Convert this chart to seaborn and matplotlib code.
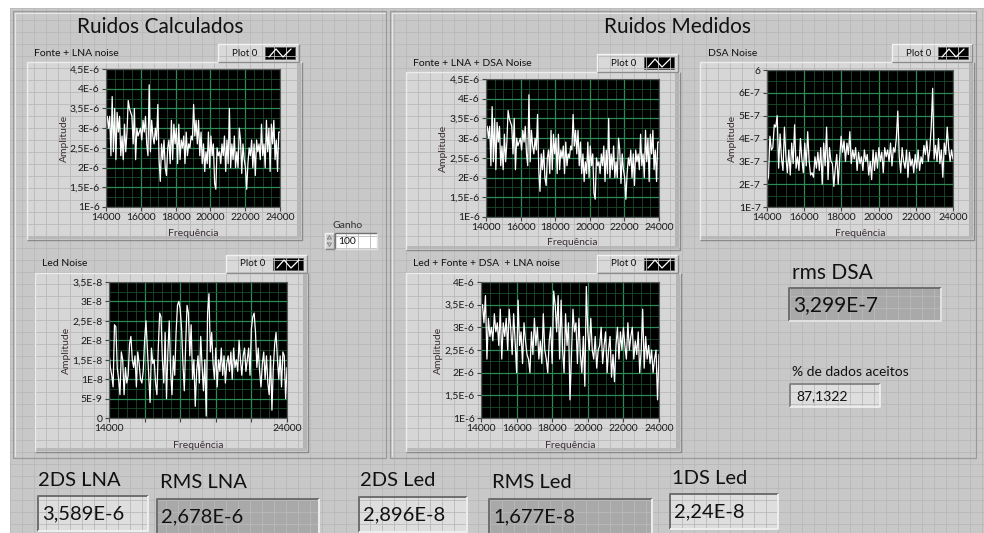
import numpy as np
import matplotlib
matplotlib.use("Agg")
import matplotlib.pyplot as plt
from matplotlib.patches import Rectangle
from matplotlib.ticker import AutoMinorLocator
import seaborn as sns

# frequency axis shared by all graphs
freq_start, freq_stop = 14000, 24000
freq_ticks = [14000, 16000, 18000, 20000, 22000, 24000]
freq_labels = ['14000', '16000', '18000', '20000', '22000', '24000']
freq_labels_led = ['14000', '', '', '', '', '24000']

# traces, left to right
fonte_lna = [3.2, 3.3, 3.0, 3.3, 2.3, 3.8, 2.4, 3.5, 2.2, 3.4, 2.9, 3.3, 2.3, 2.8, 2.2, 3.1,
             2.4, 2.9, 3.7, 3.5, 3.4, 3.3, 2.6, 3.5, 2.2, 3.0, 2.8, 2.9, 3.0, 2.7, 3.2, 2.9,
             3.3, 2.6, 2.3, 4.1, 2.4, 3.2, 2.8, 2.6, 3.0, 2.7, 3.6, 2.2, 1.65, 2.6, 2.2, 2.7,
             2.0, 1.8, 2.5, 2.7, 2.1, 3.2, 2.2, 3.1, 2.6, 3.0, 2.1, 3.1, 2.2, 2.7, 2.5, 2.8,
             2.1, 2.9, 2.3, 2.6, 2.5, 2.8, 2.7, 3.6, 2.8, 3.2, 2.6, 3.2, 2.3, 2.9, 2.1, 2.6,
             1.9, 2.4, 2.1, 2.9, 2.0, 2.8, 2.3, 2.6, 1.6, 1.45, 2.5, 2.3, 2.4, 2.1, 2.6, 2.3,
             2.8, 1.9, 2.7, 2.1, 3.5, 2.0, 2.6, 2.2, 2.8, 2.0, 2.4, 2.0, 3.0, 2.7, 1.85, 2.6,
             2.2, 2.0, 1.45, 2.1, 2.5, 2.3, 2.7, 2.0, 2.6, 1.8, 2.7, 2.4, 2.6, 2.2, 3.1, 2.3,
             2.6, 2.0, 3.2, 2.4, 3.0, 1.9, 3.1, 2.6, 3.2, 2.2, 2.7, 1.9, 2.9, 2.9]  # x1E-6
fonte_lna_dsa = list(fonte_lna)  # measured trace is the same on screen
led_noise = [1.7, 1.3, 1.1, 0.8, 2.4, 2.35, 1.3, 1.0, 0.6, 1.7, 1.5, 0.6, 1.3, 0.9, 1.1, 1.9,
             2.1, 1.5, 1.3, 1.6, 0.8, 1.7, 1.4, 1.0, 0.9, 1.2, 2.0, 2.5, 1.8, 1.1, 0.4, 1.8,
             1.4, 1.5, 0.9, 0.6, 1.8, 2.7, 2.6, 1.5, 0.9, 2.2, 0.5, 1.7, 2.5, 1.2, 0.6, 1.6,
             1.1, 2.2, 2.9, 3.0, 2.8, 2.3, 1.4, 0.7, 1.9, 2.9, 2.7, 1.6, 2.4, 1.0, 1.5, 0.3,
             1.2, 1.6, 0.9, 2.1, 1.3, 0.7, 1.5, 0.05, 2.7, 3.2, 1.7, 2.2, 1.4, 1.0, 1.8, 0.8,
             1.5, 1.2, 1.8, 1.1, 1.6, 0.9, 1.4, 1.6, 1.2, 1.7, 1.0, 1.8, 1.3, 1.5, 1.2, 2.0,
             1.5, 1.1, 1.6, 1.8, 1.2, 1.5, 1.8, 1.1, 2.3, 2.6, 2.7, 2.2, 1.3, 1.8, 1.2, 0.8,
             1.4, 1.7, 1.0, 1.6, 0.9, 0.6, 1.6, 0.2, 1.3, 1.9, 2.2, 1.5, 1.0, 1.6, 0.8, 1.7,
             1.6, 0.5, 1.3]  # x1E-8
led_fonte_dsa_lna = [3.4, 3.5, 3.1, 3.7, 2.3, 3.2, 2.8, 3.0, 2.7, 3.3, 2.9, 3.1, 2.6, 3.4, 2.3,
                     3.1, 2.8, 3.2, 2.5, 3.4, 3.0, 2.4, 3.3, 2.7, 2.0, 3.6, 2.6, 2.9, 2.2, 3.1,
                     2.7, 2.4, 2.3, 2.0, 2.9, 2.4, 3.2, 2.6, 3.0, 2.3, 2.7, 2.2, 3.3, 2.5, 2.3,
                     2.0, 2.7, 3.0, 2.2, 3.8, 3.5, 2.9, 3.7, 2.3, 3.6, 2.5, 2.0, 3.3, 2.6, 3.1,
                     1.4, 2.4, 3.4, 2.9, 3.1, 2.2, 3.2, 2.4, 2.0, 2.8, 1.7, 3.9, 2.9, 2.5, 3.2,
                     2.5, 2.3, 2.8, 2.1, 2.5, 2.6, 3.0, 2.2, 2.6, 2.9, 2.0, 2.5, 2.8, 1.9, 2.4,
                     1.8, 2.6, 3.0, 2.3, 2.9, 2.5, 3.0, 2.6, 2.3, 3.1, 2.5, 2.8, 3.0, 2.3, 2.7,
                     2.4, 2.9, 2.0, 2.5, 3.4, 2.1, 2.8, 2.3, 2.6, 2.2, 2.5, 2.0, 2.3, 2.5, 1.4,
                     2.4]  # x1E-6
dsa_noise = [2.1, 2.3, 4.1, 3.5, 3.6, 4.6, 4.5, 5.0, 2.7, 4.2, 3.1, 2.6, 4.5, 3.2, 2.5, 3.5,
             2.4, 3.8, 2.9, 4.6, 2.7, 3.2, 2.6, 4.0, 3.1, 2.5, 3.8, 2.8, 4.3, 3.0, 2.4, 2.5,
             2.3, 3.2, 2.7, 3.4, 2.6, 3.6, 2.0, 3.8, 2.8, 4.5, 2.2, 3.6, 3.0, 2.9, 1.9, 2.7,
             3.3, 2.0, 3.1, 4.1, 3.4, 3.9, 3.0, 3.8, 3.3, 4.3, 2.9, 3.5, 3.1, 3.6, 2.6, 3.4,
             2.9, 3.2, 2.6, 3.5, 3.0, 3.3, 2.4, 3.0, 2.2, 3.5, 2.6, 3.4, 2.7, 3.6, 3.0, 3.4,
             2.5, 3.6, 3.2, 3.5, 3.0, 3.8, 2.8, 3.6, 3.4, 4.0, 5.2, 3.2, 2.5, 3.6, 3.0, 2.7,
             3.5, 2.3, 3.4, 2.8, 3.1, 2.5, 3.3, 2.7, 3.5, 2.6, 3.2, 2.9, 3.7, 3.3, 3.9, 3.0,
             3.5, 4.5, 6.2, 3.1, 3.7, 3.0, 4.0, 2.9, 3.5, 2.3, 3.8, 3.3, 4.5, 3.6, 3.0, 3.5,
             3.1]  # x1E-7

# y axes
amp_ticks_lna = [1.0, 1.5, 2.0, 2.5, 3.0, 3.5, 4.0, 4.5]
amp_labels_lna = ['1E-6', '1,5E-6', '2E-6', '2,5E-6', '3E-6', '3,5E-6', '4E-6', '4,5E-6']
amp_ticks_led = [0, 0.5, 1.0, 1.5, 2.0, 2.5, 3.0, 3.5]
amp_labels_led = ['0', '5E-9', '1E-8', '1,5E-8', '2E-8', '2,5E-8', '3E-8', '3,5E-8']
amp_ticks_all = [1.0, 1.5, 2.0, 2.5, 3.0, 3.5, 4.0]
amp_labels_all = ['1E-6', '1,5E-6', '2E-6', '2,5E-6', '3E-6', '3,5E-6', '4E-6']
amp_ticks_dsa = [1, 2, 3, 4, 5, 6, 7]
amp_labels_dsa = ['1E-7', '2E-7', '3E-7', '4E-7', '5E-7', '6E-7', '6']

# indicators
ind_names = ['2DS LNA', 'RMS LNA', '2DS Led', 'RMS Led', '1DS Led']
ind_values = ['3,589E-6', '2,678E-6', '2,896E-8', '1,677E-8', '2,24E-8']
rms_dsa = '3,299E-7'
dados_aceitos = '87,1322'
ganho = '100'

sns.set_style("ticks")
plt.rcParams['font.family'] = ['Lato', 'DejaVu Sans']

W, H = 984, 533
fig = plt.figure(figsize=(W / 100, H / 100), dpi=100, facecolor='white')
bg = fig.add_axes([0, 0, 1, 1])
bg.set_xlim(0, W)
bg.set_ylim(H, 0)
bg.axis('off')

GRID_BG = '#c8c8c8'
TXT = '#111111'


def bevel(x0, y0, x1, y1, face, sunken=False, hi='#f4f4f4', lo='#808080', lw=1.0):
    bg.add_patch(Rectangle((x0, y0), x1 - x0, y1 - y0, facecolor=face, edgecolor='none'))
    a, b = (lo, hi) if sunken else (hi, lo)
    bg.plot([x0, x0, x1], [y1, y0, y0], color=a, lw=lw, solid_capstyle='butt')
    bg.plot([x0, x1, x1], [y1, y1, y0], color=b, lw=lw, solid_capstyle='butt')


# panel background with the LabVIEW grid
bg.add_patch(Rectangle((10, 8), W - 10, H - 8, facecolor=GRID_BG, edgecolor='none'))
bg.vlines(np.arange(10, W, 12), 8, H, color='#b9b9b9', lw=0.6)
bg.hlines(np.arange(8, H, 12), 10, W, color='#b9b9b9', lw=0.6)

# the two decorations
for x0, x1 in [(13, 386), (390, 976)]:
    bg.plot([x0, x0, x1, x1, x0], [458, 11, 11, 458, 458], color='#9a9a9a', lw=0.9)
    bg.plot([x0 + 1.5, x0 + 1.5, x1 - 1.5], [456, 12.5, 12.5], color='#e6e6e6', lw=0.8)
bg.text(160, 27, 'Ruidos Calculados', fontsize=15, ha='center', va='center', color=TXT)
bg.text(677, 27, 'Ruidos Medidos', fontsize=15, ha='center', va='center', color=TXT)


def px_axes(x0, y0, x1, y1):
    return fig.add_axes([x0 / W, 1 - y1 / H, (x1 - x0) / W, (y1 - y0) / H])


def graph(body, legend, label, plot, amp, scale, yticks, ylabels, ylim, xlabels, ylab_x, xlab_y):
    bx0, by0, bx1, by1 = body
    bevel(bx0, by0, bx1, by1, '#d6d6d6', hi='#ececec', lo='#8a8a8a')
    bg.add_patch(Rectangle((bx1 - 5, by0 + 1), 4, by1 - by0 - 2, facecolor='#b4b4b4', edgecolor='none'))
    bg.add_patch(Rectangle((bx0 + 1, by1 - 4), bx1 - bx0 - 2, 3, facecolor='#b8b8b8', edgecolor='none'))
    lx0, ly0, lx1, ly1 = legend
    bevel(lx0, ly0, lx1, ly1, '#d9d9d9', hi='#f2f2f2', lo='#8c8c8c')
    bg.text(lx0 + 14, (ly0 + ly1) / 2, 'Plot 0', fontsize=7, ha='left', va='center', color=TXT)
    sx0 = lx1 - 34
    bg.add_patch(Rectangle((sx0, ly0 + 3), 30, ly1 - ly0 - 6, facecolor='black', edgecolor='#555555', lw=0.6))
    ym = (ly0 + ly1) / 2
    bg.plot([sx0 + 4, sx0 + 11, sx0 + 18, sx0 + 26], [ym + 4, ym - 4, ym + 4, ym - 4], color='white', lw=0.9)
    bg.text(label[0], label[1], label[2], fontsize=7.5, ha='left', va='center', color=TXT)

    px0, py0, px1, py1 = plot
    ax = px_axes(px0, py0, px1, py1)
    freq = np.linspace(freq_start, freq_stop, len(amp))
    sns.lineplot(x=freq, y=np.array(amp) * scale, ax=ax, color='white', lw=0.9)
    ax.set_facecolor('black')
    ax.set_xlim(freq_start, freq_stop)
    ax.set_ylim(ylim[0] * scale, ylim[1] * scale)
    ax.set_xticks(freq_ticks)
    ax.set_xticklabels(xlabels)
    ax.set_yticks([t * scale for t in yticks])
    ax.set_yticklabels(ylabels)
    ax.xaxis.set_minor_locator(AutoMinorLocator(4))
    ax.yaxis.set_minor_locator(AutoMinorLocator(2))
    ax.set_axisbelow(True)
    ax.grid(which='minor', color='#174d2b', lw=0.6)
    ax.grid(which='major', color='#2c8a54', lw=0.9)
    ax.tick_params(which='minor', length=0)
    ax.tick_params(which='major', length=3, width=0.8, color='#444444', labelsize=7.5,
                   pad=1.5, labelcolor='#1a1a1a')
    for s in ax.spines.values():
        s.set_color('#5a5a5a')
        s.set_linewidth(0.8)
    ax.set_xlabel('Frequência', fontsize=7.5, color='#3a2c36')
    ax.set_ylabel('Amplitude', fontsize=7.5, color='#3a2c36')
    ax.xaxis.label.set(va='center', ha='center')
    ax.yaxis.label.set(va='center', ha='center', rotation_mode='default')
    ax.xaxis.set_label_coords(0.5, (py1 - xlab_y) / (py1 - py0))
    ax.yaxis.set_label_coords((ylab_x - px0) / (px1 - px0), 0.5)
    return ax


graph((27, 62, 302, 240), (218, 44, 299, 62), (34, 53, 'Fonte + LNA noise'),
      (106, 69, 280, 207), fonte_lna, 1e-6, amp_ticks_lna, amp_labels_lna, (1.0, 4.5),
      freq_labels, 64, 233)
graph((35, 273, 308, 452), (226, 255, 307, 273), (42, 264, 'Led Noise'),
      (109, 282, 287, 418), led_noise, 1e-8, amp_ticks_led, amp_labels_led, (0, 3.5),
      freq_labels_led, 66, 445)
graph((406, 72, 680, 250), (597, 54, 678, 72), (413, 63, 'Fonte + LNA + DSA Noise'),
      (486, 79, 659, 217), fonte_lna_dsa, 1e-6, amp_ticks_lna, amp_labels_lna, (1.0, 4.5),
      freq_labels, 443, 243)
graph((406, 273, 681, 452), (597, 255, 678, 273), (413, 264, 'Led + Fonte + DSA  + LNA noise'),
      (481, 282, 659, 418), led_fonte_dsa_lna, 1e-6, amp_ticks_all, amp_labels_all, (1.0, 4.0),
      freq_labels, 438, 445)
graph((700, 62, 974, 240), (892, 44, 972, 62), (708, 53, 'DSA Noise'),
      (767, 70, 953, 207), dsa_noise, 1e-7, amp_ticks_dsa, amp_labels_dsa, (1, 7),
      freq_labels, 732, 233)

# Ganho control
bg.text(348, 225, 'Ganho', fontsize=7.5, ha='center', va='center', color='#333333')
bevel(335, 233, 377, 249, 'white', sunken=True, lo='#707070', hi='#e0e0e0')
bg.text(338, 241.5, ganho, fontsize=7.5, ha='left', va='center', color=TXT)
bevel(325, 233, 334, 249, '#d4d4d4', hi='#f0f0f0', lo='#8a8a8a')
bg.plot([327.5, 329.5, 331.5, 327.5], [239, 235.5, 239, 239], color='#888888', lw=0.7)
bg.plot([327.5, 329.5, 331.5, 327.5], [243, 246.5, 243, 243], color='#888888', lw=0.7)

# rms DSA and accepted data
bg.text(792, 273, 'rms DSA', fontsize=15, ha='left', va='center', color=TXT)
bevel(789, 288, 941, 321, '#a9a9a9', sunken=True, lo='#6e6e6e', hi='#e2e2e2', lw=1.4)
bg.text(793, 305, rms_dsa, fontsize=15, ha='left', va='center', color=TXT)
bg.text(792, 372, '% de dados aceitos', fontsize=10, ha='left', va='center', color=TXT)
bevel(790, 384, 880, 407, '#dedede', sunken=True, lo='#7a7a7a', hi='#f0f0f0', lw=1.2)
bg.text(796, 396, dados_aceitos, fontsize=10, ha='left', va='center', color=TXT)

# bottom indicators
ind_label_pos = [(38, 480), (160, 483), (360, 480), (492, 483), (672, 478)]
ind_boxes = [(38, 496, 148, 531), (157, 499, 319, 534), (359, 497, 467, 532),
             (489, 499, 652, 534), (670, 494, 778, 529)]
ind_faces = ['#dedede', '#a9a9a9', '#dedede', '#a9a9a9', '#dedede']
for name, value, (tx, ty), (x0, y0, x1, y1), face in zip(ind_names, ind_values, ind_label_pos,
                                                        ind_boxes, ind_faces):
    bg.text(tx, ty, name, fontsize=14.5, ha='left', va='center', color=TXT)
    bevel(x0, y0, x1, y1, face, sunken=True, lo='#6e6e6e', hi='#eeeeee', lw=1.4)
    bg.text(x0 + 4, (y0 + y1) / 2, value, fontsize=14.5, ha='left', va='center', color=TXT)

fig.savefig('out.png', dpi=100, facecolor='white')
